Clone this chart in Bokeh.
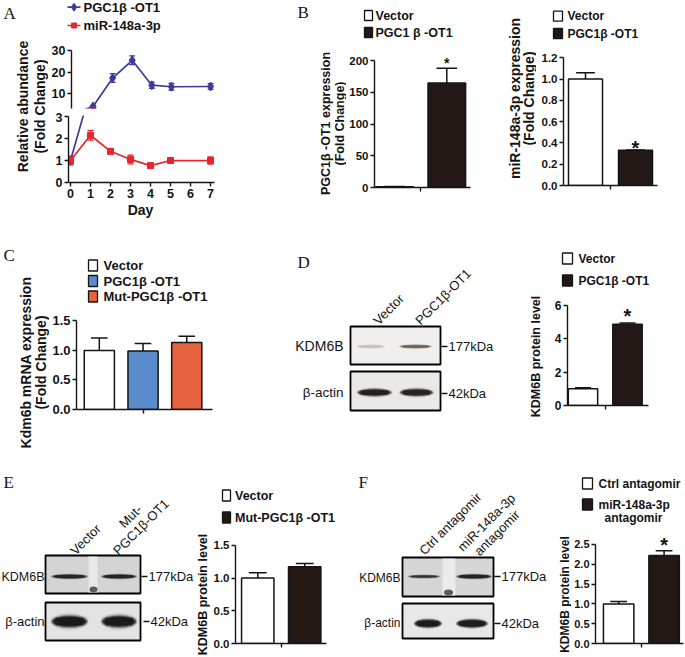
import math
from bokeh.plotting import figure
from bokeh.models import (Range1d, Label, FixedTicker, PrintfTickFormatter,
                          CustomJSTickFormatter, LinearAxis)
from bokeh.layouts import row, column
from bokeh.embed import file_html
from bokeh.resources import INLINE

# ----------------------------- data -----------------------------
days = [0, 1, 2, 3, 4, 5, 7]
pgc_mean = [1.0, 4.2, 17.3, 25.5, 14.0, 13.3, 13.4]
pgc_err = [0.2, 0.5, 2.0, 2.0, 1.4, 1.5, 1.3]
mir_mean = [1.0, 2.15, 1.42, 1.05, 0.77, 1.0, 1.0]
mir_err = [0.16, 0.22, 0.1, 0.2, 0.1, 0.13, 0.16]
line_series = ["PGC1β -OT1", "miR-148a-3p"]

b1_groups = ["Vector", "PGC1 β -OT1"]
b1_vals = [1.0, 165.0]
b1_errs = [0.6, 23.0]
b2_groups = ["Vector", "PGC1β -OT1"]
b2_vals = [1.0, 0.33]
b2_errs = [0.06, 0.004]
c_groups = ["Vector", "PGC1β -OT1", "Mut-PGC1β -OT1"]
c_vals = [1.0, 0.99, 1.135]
c_errs = [0.21, 0.13, 0.105]
d_groups = ["Vector", "PGC1β -OT1"]
d_vals = [1.0, 4.88]
d_errs = [0.06, 0.07]
e_groups = ["Vector", "Mut-PGC1β -OT1"]
e_vals = [1.0, 1.17]
e_errs = [0.08, 0.05]
f_groups = ["Ctrl antagomir", "miR-148a-3p\nantagomir"]
f_vals = [1.0, 2.22]
f_errs = [0.06, 0.12]

# western blots: lane names and relative band intensities (0-1)
d_lanes = ["Vector", "PGC1β-OT1"]
d_kdm6b = [0.12, 0.55]
d_actin = [0.95, 0.92]
e_lanes = ["Vector", "Mut-\nPGC1β-OT1"]
e_kdm6b = [0.85, 0.88]
e_actin = [1.0, 1.0]
f_lanes = ["Ctrl antagomir", "miR-148a-3p\nantagomir"]
f_kdm6b = [0.7, 0.92]
f_actin = [0.95, 0.95]

# ----------------------------- style -----------------------------
SANS = "Liberation Sans"
SERIF = "Liberation Serif"
INK = "#141414"
BLUE = "#3c3c98"
RED = "#e5262d"
BARBLK = "#231815"
CBLUE = "#5a8bcb"
CORANGE = "#e6613d"
UP = math.pi / 2


def fs(v):
    return f"{v:.1f}px"


def base_fig(x0, x1, y0, y1, fl, fr, ft, fb, xr, yr):
    p = figure(width=x1 - x0, height=y1 - y0,
               x_range=Range1d(*xr), y_range=Range1d(*yr),
               output_backend="svg", toolbar_location=None,
               x_axis_location=None, y_axis_location=None,
               min_border_left=fl - x0, min_border_right=x1 - fr,
               min_border_top=ft - y0, min_border_bottom=y1 - fb,
               frame_align=False)
    p.outline_line_color = None
    p.xgrid.visible = False
    p.ygrid.visible = False
    p.background_fill_color = "white"
    p.border_fill_color = "white"
    return p


def pix(x0, x1, y0, y1):
    """A drawing area whose data units are the page pixels of the figure."""
    return base_fig(x0, x1, y0, y1, x0, x1, y0, y1, (x0, x1), (y1, y0))


def chart(x0, x1, y0, y1, frame, xr, yr):
    fl, fr, ft, fb = frame
    return base_fig(x0, x1, y0, y1, fl, fr, ft, fb, xr, yr)


def axis(p, where, ticks, size, bounds="auto", fmt=None, labels=True, tick_out=4):
    ax = LinearAxis(ticker=FixedTicker(ticks=ticks), bounds=bounds)
    if not labels:
        ax.formatter = CustomJSTickFormatter(code="return ''")
    elif fmt:
        ax.formatter = PrintfTickFormatter(format=fmt)
    ax.axis_line_width = 1.4
    ax.axis_line_color = INK
    ax.major_tick_line_width = 1.4
    ax.major_tick_line_color = INK
    ax.major_tick_out = tick_out
    ax.major_tick_in = 0
    ax.minor_tick_out = 0
    ax.minor_tick_in = 0
    ax.major_label_text_font = SANS
    ax.major_label_text_font_style = "bold"
    ax.major_label_text_font_size = fs(size)
    ax.major_label_text_color = INK
    ax.major_label_standoff = 2
    p.add_layout(ax, where)
    return ax


def dtxt(p, X, Y, text, size, align="left", baseline="middle", angle=0.0, bold=False, font=SANS):
    p.add_layout(Label(x=X, y=Y, text=text, text_font=font, text_font_size=fs(size),
                       text_font_style="bold" if bold else "normal", text_color=INK,
                       text_align=align, text_baseline=baseline, angle=angle))


def sq_legend(p, labels, colors, sw_left, sw_w, sw_h, y_first, pitch, text_left, size):
    for i, (lab, col) in enumerate(zip(labels, colors)):
        lines = lab.split("\n")
        yc = y_first + i * pitch
        p.quad(left=[sw_left], right=[sw_left + sw_w], top=[yc - sw_h / 2], bottom=[yc + sw_h / 2],
               fill_color=col, line_color=INK, line_width=1.3)
        dtxt(p, text_left, yc, lines[0], size, bold=True)
        for k, extra in enumerate(lines[1:], start=1):
            dtxt(p, text_left + 35, yc + k * 13, extra, size, bold=True, align="center")


def bars(p, xs, vals, errs, colors, width, capfrac=0.55):
    r = p.vbar(x=xs, top=vals, width=width, fill_color=colors, line_color=INK, line_width=1.5)
    hi = [v + e for v, e in zip(vals, errs)]
    p.segment(x0=xs, y0=vals, x1=xs, y1=hi, line_color=INK, line_width=1.5)
    cw = width * capfrac / 2
    p.segment(x0=[x - cw for x in xs], y0=hi, x1=[x + cw for x in xs], y1=hi,
              line_color=INK, line_width=1.5)
    return r, hi


def star(p, x, y, dist, size):
    p.add_layout(Label(x=x, y=y, y_offset=dist - 0.25 * size, text="*", text_font=SANS,
                       text_font_size=fs(size), text_font_style="bold", text_color=INK,
                       text_align="center", text_baseline="middle"))


def box(p, x0, x1, y0, y1, fill):
    p.quad(left=[x0], right=[x1], top=[y0], bottom=[y1], fill_color=fill,
           line_color="black", line_width=1.8)


# soft-edged band: stacked ellipses (width factor, height factor, opacity)
BAND_LAYERS = ((1.02, 1.35, 0.08), (0.98, 1.12, 0.2), (0.94, 0.98, 0.35),
               (0.9, 0.84, 0.5), (0.84, 0.68, 0.6))


def bands(p, xs, ws, y, hs, intens, color):
    n = len(xs)
    ys = [y] * n
    for fw, fh, a in BAND_LAYERS:
        p.ellipse(x=xs, y=ys, width=[w * fw for w in ws], height=[h * fh for h in hs],
                  fill_color=color, fill_alpha=[a * v for v in intens], line_color=None)
    p.rect(x=xs, y=ys, width=[w * 0.74 for w in ws], height=[h * 0.6 for h in hs],
           fill_color=color, fill_alpha=[0.45 * v for v in intens], line_color=None)


def lane_label(p, text, x, y, size=13):
    lines = text.split("\n")
    if len(lines) == 1:
        dtxt(p, x, y, lines[0], size, align="left", baseline="alphabetic", angle=math.pi / 4)
    else:
        d = 10.6
        k = len(lines) - 1
        for j, ln in enumerate(lines):
            off = (k - j) * d
            dtxt(p, x - off, y - off, ln, size, align="center", baseline="alphabetic",
                 angle=math.pi / 4)


def kda(p, xb, y, text, size=13):
    p.segment(x0=[xb], y0=[y], x1=[xb + 6], y1=[y], line_color=INK, line_width=1.3)
    dtxt(p, xb + 7, y, text, size)


# ============================ ROW 1 ============================
# ---- panel A ----
A_lab = pix(0, 48, 0, 218)
dtxt(A_lab, 3, 12.5, "A", 17, font=SERIF)
dtxt(A_lab, 22.5, 106, "Relative abundance", 14, align="center", angle=UP, bold=True)
dtxt(A_lab, 39.5, 106, "(Fold Change)", 14, align="center", angle=UP, bold=True)

A_leg = pix(48, 290, 0, 44)
A_top = chart(48, 290, 44, 112, (68, 214, 48, 108), (-0.1, 7.2), (3.27, 30.92))
A_bot = chart(48, 290, 112, 200, (68, 214, 115, 183), (-0.1, 7.2), (0, 3.05))
A_day = pix(48, 290, 200, 218)
axis(A_top, "left", [10, 20, 30], 12.5, bounds=(3.27, 30))
axis(A_bot, "left", [0, 1, 2, 3], 12.5, bounds=(0, 3))
axis(A_bot, "below", list(range(8)), 12.5)
dtxt(A_day, 140, 209, "Day", 14, align="center", bold=True)

series = ((pgc_mean, pgc_err, BLUE, "diamond", 9), (mir_mean, mir_err, RED, "square", 6))
for p in (A_top, A_bot):
    for mean, err, col, mk, sz in series:
        lo = [m - e for m, e in zip(mean, err)]
        hi = [m + e for m, e in zip(mean, err)]
        p.segment(x0=days, y0=lo, x1=days, y1=hi, line_color=col, line_width=1.3)
        for yy in (lo, hi):
            p.segment(x0=[d - 0.15 for d in days], y0=yy, x1=[d + 0.15 for d in days], y1=yy,
                      line_color=col, line_width=1.3)
        p.line(days, mean, line_color=col, line_width=1.7)
        p.scatter(days, mean, marker=mk, size=sz, fill_color=col, line_color=col)
for i, (name, (_, _, col, mk, sz)) in enumerate(zip(line_series, series)):
    yc = 6.7 + i * 18.3
    A_leg.segment(x0=[67], y0=[yc], x1=[80], y1=[yc], line_color=col, line_width=1.7)
    A_leg.scatter([73.5], [yc], marker=mk, size=sz - 1, fill_color=col, line_color=col)
    dtxt(A_leg, 83, yc, name, 13, bold=True)

# ---- panel B (left) ----
B1_lab = pix(290, 346, 0, 218)
dtxt(B1_lab, 297, 12, "B", 17, font=SERIF)
dtxt(B1_lab, 325, 123, "PGC1β -OT1 expression", 12.5, align="center", angle=UP, bold=True)
dtxt(B1_lab, 339.5, 123, "(Fold Change)", 12.5, align="center", angle=UP, bold=True)
B1_leg = pix(346, 500, 0, 48)
B1 = chart(346, 500, 48, 218, (372, 470, 50, 187), (0.615, 2.454), (0, 216.1))
axis(B1, "left", [0, 50, 100, 150, 200], 11.5, bounds=(0, 200))
axis(B1, "below", [1.5], 11.5, labels=False)
r, hi = bars(B1, [1, 2], b1_vals, b1_errs, ["white", BARBLK], 0.72)
star(B1, 2, hi[1], 9, 14)
sq_legend(B1_leg, b1_groups, ["white", BARBLK], 364, 8, 10, 15, 17, 375, 12.5)

# ---- panel B (right) ----
B2_lab = pix(500, 536, 0, 218)
dtxt(B2_lab, 514, 98, "miR-148a-3p expression", 14, align="center", angle=UP, bold=True)
dtxt(B2_lab, 528, 98, "(Fold Change)", 14, align="center", angle=UP, bold=True)
B2_leg = pix(536, 685, 0, 48)
B2 = chart(536, 685, 48, 218, (563, 657, 50, 185), (0.56, 2.44), (0, 1.268))
axis(B2, "left", [0, 0.2, 0.4, 0.6, 0.8, 1.0, 1.2], 11.5, bounds=(0, 1.2), fmt="%.1f")
axis(B2, "below", [1.5], 11.5, labels=False)
r, hi = bars(B2, [1, 2], b2_vals, b2_errs, ["white", BARBLK], 0.68)
star(B2, 2, hi[1], 6.5, 20)
sq_legend(B2_leg, b2_groups, ["white", BARBLK], 553, 9, 10, 15.7, 17.3, 567, 12)

# ============================ ROW 2 ============================
C_lab = pix(0, 49, 218, 462)
dtxt(C_lab, 3, 255, "C", 17, font=SERIF)
dtxt(C_lab, 25, 362, "Kdm6b mRNA expression", 14, align="center", angle=UP, bold=True)
dtxt(C_lab, 40, 362, "(Fold Change)", 14, align="center", angle=UP, bold=True)
C_leg = pix(49, 290, 218, 310)
C = chart(49, 290, 310, 462, (72, 212, 315, 409), (0.478, 3.589), (0, 1.593))
axis(C, "left", [0, 0.5, 1.0, 1.5], 13, bounds=(0, 1.5), fmt="%.1f")
axis(C, "below", [2], 13, labels=False)
r, hi = bars(C, [1, 2, 3], c_vals, c_errs, ["white", CBLUE, CORANGE], 0.69)
sq_legend(C_leg, c_groups, ["white", CBLUE, CORANGE], 88, 9, 11, 265, 15.5, 103, 13)

D_blot = pix(290, 520, 218, 462)
dtxt(D_blot, 297, 262, "D", 17, font=SERIF)
box(D_blot, 350, 440, 326, 364, "#f1efee")
box(D_blot, 350, 440, 371, 410, "#ebe9e8")
bands(D_blot, [370, 415], [30, 34], 346, [4, 4], d_kdm6b, "#4a2e28")
bands(D_blot, [374, 416], [36, 35], 392, [8, 8], d_actin, "#151515")
dtxt(D_blot, 343, 345, "KDM6B", 14, align="right")
dtxt(D_blot, 343, 392, "β-actin", 13.5, align="right")
kda(D_blot, 441, 346, "177kDa")
kda(D_blot, 441, 393, "42kDa")
lane_label(D_blot, d_lanes[0], 375, 322)
lane_label(D_blot, d_lanes[1], 417, 322)

D_lab = pix(520, 548, 218, 462)
dtxt(D_lab, 535, 356, "KDM6B protein level", 12.5, align="center", angle=UP, bold=True)
D_leg = pix(548, 685, 218, 296)
D_bar = chart(548, 685, 296, 462, (567, 648, 298, 405), (0.652, 2.472), (0, 6.42))
axis(D_bar, "left", [0, 2, 4, 6], 12, bounds=(0, 6))
axis(D_bar, "below", [1.5], 12, labels=False)
r, hi = bars(D_bar, [1, 2], d_vals, d_errs, ["white", BARBLK], 0.66)
star(D_bar, 2, hi[1], 12.5, 20)
sq_legend(D_leg, d_groups, ["white", BARBLK], 562, 10, 11, 258, 22, 578, 12)

# ============================ ROW 3 ============================
E_blot = pix(0, 195, 462, 657)
dtxt(E_blot, 3, 482, "E", 17, font=SERIF)
box(E_blot, 45, 140, 555, 593, "#d4d4d4")
E_blot.quad(left=[88], right=[97], top=[556], bottom=[592], fill_color="#ececec",
            fill_alpha=0.85, line_color=None)
E_blot.ellipse(x=[93], y=[589], width=[8], height=[6], fill_color="#3a3a3a",
               fill_alpha=0.8, line_color=None)
box(E_blot, 45, 140, 602, 640, "#e3e3e3")
bands(E_blot, [69, 118.5], [38, 37], 576, [5, 5], e_kdm6b, "#151515")
bands(E_blot, [69, 118.5], [38, 37], 621, [13, 13], e_actin, "#101010")
dtxt(E_blot, 44, 576, "KDM6B", 12.5, align="right")
dtxt(E_blot, 44, 621, "β-actin", 13, align="right")
kda(E_blot, 141, 576, "177kDa")
kda(E_blot, 143, 621, "42kDa")
lane_label(E_blot, e_lanes[0], 72, 552)
lane_label(E_blot, e_lanes[1], 140.5, 526.5)

E_lab = pix(195, 210, 462, 657)
dtxt(E_lab, 202.5, 594, "KDM6B protein level", 12.5, align="center", angle=UP, bold=True)
E_leg = pix(210, 345, 462, 533)
E_bar = chart(210, 345, 533, 657, (232, 326, 535, 643), (0.526, 2.464), (0, 1.649))
axis(E_bar, "left", [0, 0.5, 1.0, 1.5], 11.5, bounds=(0, 1.5), fmt="%.1f")
axis(E_bar, "below", [1.5], 11.5, labels=False)
r, hi = bars(E_bar, [1, 2], e_vals, e_errs, ["white", BARBLK], 0.69)
sq_legend(E_leg, e_groups, ["white", BARBLK], 222, 8, 11, 495, 22, 234.5, 12.5)

F_blot = pix(345, 555, 462, 657)
dtxt(F_blot, 358, 482, "F", 17, font=SERIF)
box(F_blot, 402, 493, 557, 596, "#d6d6d6")
F_blot.quad(left=[442], right=[455], top=[558], bottom=[595], fill_color="#eeeeee",
            fill_alpha=0.85, line_color=None)
F_blot.ellipse(x=[448], y=[592], width=[9], height=[6], fill_color="#3a3a3a",
               fill_alpha=0.8, line_color=None)
box(F_blot, 402, 493, 603, 638, "#e8e8e8")
bands(F_blot, [423.5, 473.5], [33, 37], 576, [3.5, 5], f_kdm6b, "#151515")
bands(F_blot, [427.5, 471.5], [29, 33], 623, [9, 9], f_actin, "#101010")
dtxt(F_blot, 400, 577, "KDM6B", 12, align="right")
dtxt(F_blot, 400, 622, "β-actin", 12, align="right")
kda(F_blot, 494, 576, "177kDa")
kda(F_blot, 494, 623, "42kDa")
lane_label(F_blot, f_lanes[0], 421, 552)
lane_label(F_blot, f_lanes[1], 496.5, 532.5)

F_lab = pix(555, 571, 462, 657)
dtxt(F_lab, 564, 594, "KDM6B protein level", 12, align="center", angle=UP, bold=True)
F_leg = pix(571, 685, 462, 529)
F_bar = chart(571, 685, 529, 657, (590, 683, 531, 643), (0.49, 2.427), (0, 2.828))
axis(F_bar, "left", [0, 0.5, 1.0, 1.5, 2.0, 2.5], 11, bounds=(0, 2.5), fmt="%.1f")
axis(F_bar, "below", [1.5], 11, labels=False)
r, hi = bars(F_bar, [1, 2], f_vals, f_errs, ["white", BARBLK], 0.67)
star(F_bar, 2, hi[1], 11, 20)
sq_legend(F_leg, f_groups, ["white", BARBLK], 582, 10, 11, 483, 21, 598, 12)

# ----------------------------- layout -----------------------------
row1 = row(A_lab, column(A_leg, A_top, A_bot, A_day), B1_lab, column(B1_leg, B1),
           B2_lab, column(B2_leg, B2))
row2 = row(C_lab, column(C_leg, C), D_blot, D_lab, column(D_leg, D_bar))
row3 = row(E_blot, E_lab, column(E_leg, E_bar), F_blot, F_lab, column(F_leg, F_bar))
layout = column(row1, row2, row3)

open("out.html", "w").write(file_html(layout, INLINE, title="PGC1b-OT1 / miR-148a-3p / KDM6B"))
